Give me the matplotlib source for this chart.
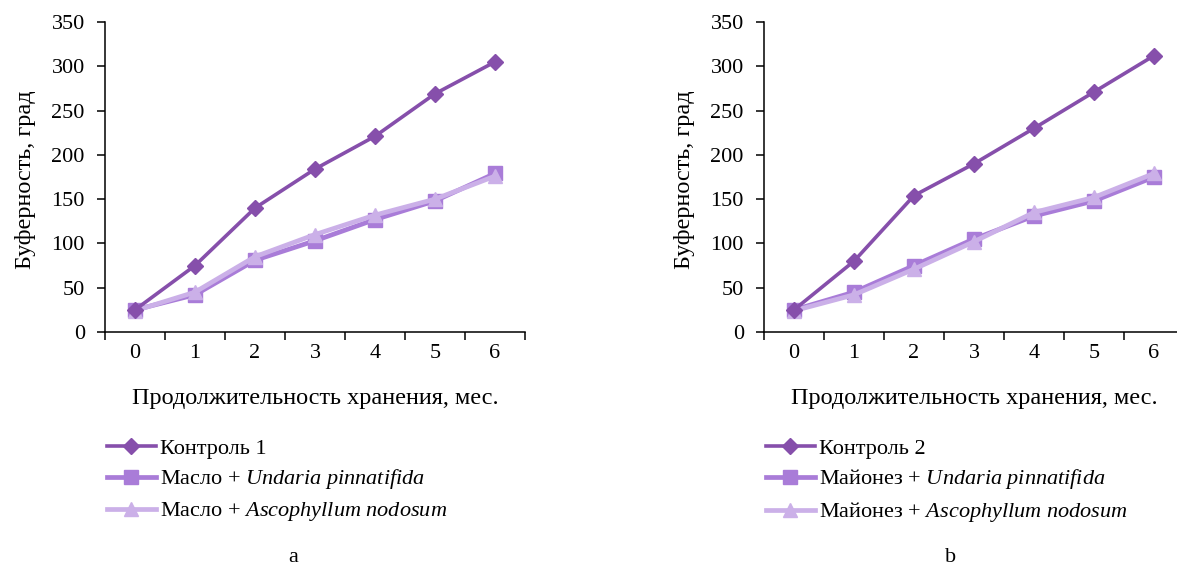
import matplotlib
matplotlib.use("Agg")
import matplotlib.pyplot as plt
from matplotlib.ticker import FixedLocator

plt.rcParams['font.family'] = ['Liberation Serif', 'DejaVu Serif']
plt.rcParams['mathtext.fontset'] = 'custom'
plt.rcParams['mathtext.rm'] = 'Liberation Serif'
plt.rcParams['mathtext.it'] = 'Liberation Serif:italic'
plt.rcParams['font.size'] = 16

months = [0, 1, 2, 3, 4, 5, 6]

# panel a
control1 = [25, 75, 140, 184, 221, 269, 305]
oil_undaria = [25, 42, 81, 103, 127, 148, 179]
oil_asco = [24, 45, 85, 110, 132, 150, 176]

# panel b
control2 = [25, 80, 154, 190, 230, 271, 312]
mayo_undaria = [25, 45, 75, 105, 131, 148, 175]
mayo_asco = [24, 42, 71, 102, 135, 152, 179]

labels_a = ["Контроль 1",
            r"Масло + $\it{Undaria\ pinnatifida}$",
            r"Масло + $\it{Ascophyllum\ nodosum}$"]
labels_b = ["Контроль 2",
            r"Майонез + $\it{Undaria\ pinnatifida}$",
            r"Майонез + $\it{Ascophyllum\ nodosum}$"]

c_dark = '#864fab'
c_mid = '#a97cd8'
c_light = '#cbb0e8'

fig = plt.figure(figsize=(11.77, 5.65), dpi=100)

W, H = 1177, 565
panels = [
    (105, [control1, oil_undaria, oil_asco], labels_a, 'a', 293),
    (764, [control2, mayo_undaria, mayo_asco], labels_b, 'b', 951),
]

for left, series, labels, letter, lx in panels:
    ax = fig.add_axes([left / W, 1 - 332 / H, 420 / W, 310 / H])
    ax.plot(months, series[0], color=c_dark, lw=2.6, marker='D', ms=8,
            label=labels[0], zorder=5)
    ax.plot(months, series[1], color=c_mid, lw=3.4, marker='s', ms=9.5,
            label=labels[1], zorder=3)
    ax.plot(months, series[2], color=c_light, lw=3.4, marker='^', ms=10.5,
            label=labels[2], zorder=4)

    ax.set_xlim(-0.5, 6.5)
    ax.set_ylim(0, 350)
    ax.set_xticks(months)
    ax.xaxis.set_minor_locator(FixedLocator([i - 0.5 for i in range(8)]))
    ax.tick_params(axis='x', which='major', length=0, pad=9, labelsize=16)
    ax.tick_params(axis='x', which='minor', length=6, width=1.1, direction='out')
    ax.set_yticks(range(0, 351, 50))
    ax.tick_params(axis='y', length=6, width=1.1, pad=8.5, labelsize=16)
    for s in ['top', 'right']:
        ax.spines[s].set_visible(False)
    for s in ['left', 'bottom']:
        ax.spines[s].set_linewidth(1.1)

    ax.set_ylabel("Буферность, град", fontsize=17.5)
    ax.yaxis.set_label_coords(-0.165, 0.49)
    ax.set_xlabel("Продолжительность хранения, мес.", fontsize=17.5)
    ax.xaxis.set_label_coords(0.5, -0.18)

    ax.legend(loc='upper left', bbox_to_anchor=((left + 2) / W, 1 - 438 / H),
              bbox_transform=fig.transFigure, frameon=False, fontsize=16,
              handlelength=2.2, handletextpad=0.2, labelspacing=0.4,
              borderpad=0, borderaxespad=0)

    fig.text(lx / W, 1 - 557 / H, letter, ha='center', va='center', fontsize=16)

fig.savefig("out.png", dpi=100)
